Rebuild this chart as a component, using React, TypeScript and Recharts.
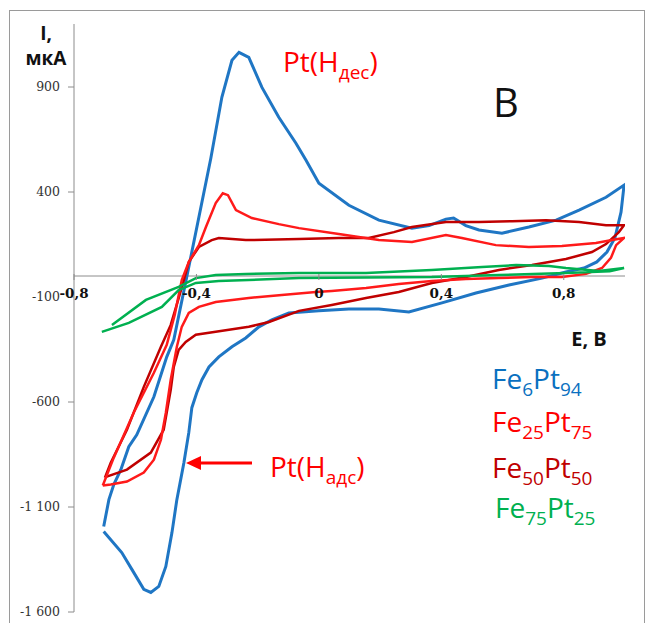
import React from 'react';
import { LineChart, Line, XAxis, YAxis, ReferenceLine } from 'recharts';

// Cyclic voltammograms of Fe–Pt alloys: potential E (V) vs current I (µA)
type Pair = [number, number];

const xTicks = [-0.8, -0.4, 0, 0.4, 0.8];
const yTicks = [-1600, -1100, -600, -100, 400, 900];

const fe6pt94: Pair[] = [
  [-0.703, -1193], [-0.686, -1065], [-0.670, -993], [-0.647, -922], [-0.621, -813],
  [-0.595, -756], [-0.539, -575], [-0.497, -385], [-0.474, -304], [-0.431, 0],
  [-0.353, 561], [-0.317, 851], [-0.284, 1027], [-0.261, 1065], [-0.229, 1041],
  [-0.186, 898], [-0.131, 756], [-0.075, 632], [-0.042, 551], [0, 442],
  [0.098, 337], [0.196, 266], [0.304, 228], [0.360, 240], [0.415, 271],
  [0.440, 276], [0.480, 240], [0.523, 219], [0.598, 204], [0.686, 233],
  [0.775, 266], [0.850, 314], [0.938, 375], [0.997, 433],
  [0.987, 304], [0.967, 181], [0.941, 114], [0.908, 67], [0.866, 38],
  [0.807, 19], [0.729, -10], [0.621, -43], [0.513, -81], [0.402, -128],
  [0.294, -171], [0.196, -157], [0.098, -157], [0, -166], [-0.098, -176],
  [-0.154, -209], [-0.196, -242], [-0.239, -295], [-0.284, -337], [-0.327, -385],
  [-0.359, -433], [-0.382, -494], [-0.399, -556], [-0.415, -627], [-0.425, -746],
  [-0.441, -889], [-0.464, -1065], [-0.480, -1222], [-0.500, -1383], [-0.523, -1478],
  [-0.549, -1507], [-0.572, -1492], [-0.611, -1397], [-0.644, -1317], [-0.703, -1217],
];

const fe25pt75: Pair[] = [
  [-0.706, -998], [-0.670, -865], [-0.605, -651], [-0.539, -461], [-0.497, -328],
  [-0.471, -185], [-0.448, -19], [-0.425, 67], [-0.392, 147], [-0.369, 233],
  [-0.337, 347], [-0.314, 394], [-0.297, 385], [-0.271, 314], [-0.219, 276],
  [-0.131, 247], [-0.065, 228], [0.065, 200], [0.196, 171], [0.304, 162],
  [0.415, 195], [0.467, 181], [0.578, 147], [0.686, 138], [0.794, 143],
  [0.905, 157], [0.958, 171], [0.997, 181],
  [0.971, 147], [0.954, 86], [0.925, 38], [0.873, 10], [0.794, -5],
  [0.696, -5], [0.588, -10], [0.480, -14], [0.369, -24], [0.261, -38],
  [0.154, -57], [0.042, -71], [-0.010, -76], [-0.121, -90], [-0.229, -105],
  [-0.337, -124], [-0.392, -147], [-0.425, -176], [-0.448, -242], [-0.464, -337],
  [-0.484, -494], [-0.500, -651], [-0.516, -780], [-0.539, -875], [-0.572, -936],
  [-0.627, -979], [-0.680, -993], [-0.706, -998],
];

const fe50pt50: Pair[] = [
  [-0.699, -960], [-0.680, -889], [-0.627, -732], [-0.572, -528], [-0.516, -337],
  [-0.484, -233], [-0.458, -105], [-0.441, -19], [-0.425, 67], [-0.392, 138],
  [-0.350, 171], [-0.327, 181], [-0.239, 171], [-0.065, 176], [0.065, 181],
  [0.163, 181], [0.245, 209], [0.304, 233], [0.415, 257], [0.523, 257],
  [0.631, 261], [0.742, 266], [0.850, 257], [0.938, 242], [0.997, 242],
  [0.980, 209], [0.938, 152], [0.892, 114], [0.807, 81], [0.752, 67],
  [0.696, 52], [0.588, 29], [0.480, -5], [0.369, -33], [0.261, -76],
  [0.154, -105], [0.042, -138], [-0.065, -166], [-0.163, -219], [-0.229, -242],
  [-0.337, -266], [-0.402, -280], [-0.435, -314], [-0.458, -352], [-0.474, -433],
  [-0.484, -542], [-0.507, -732], [-0.549, -841], [-0.627, -922], [-0.693, -955],
  [-0.699, -960],
];

const fe75pt25: Pair[] = [
  [-0.676, -233], [-0.565, -114], [-0.458, -52], [-0.402, -10], [-0.337, 5],
  [-0.239, 10], [-0.065, 14], [0.154, 14], [0.369, 29], [0.533, 43],
  [0.644, 52], [0.752, 48], [0.807, 38], [0.915, 24], [0.997, 38],
  [0.950, 22], [0.807, 14], [0.588, 5], [0.369, -5], [-0.065, -10],
  [-0.327, -24], [-0.402, -33], [-0.458, -67], [-0.513, -147], [-0.621, -223],
  [-0.709, -266],
];

const series = [
  { name: 'Fe6Pt94', points: fe6pt94, color: '#1f76c4', width: 3 },
  { name: 'Fe50Pt50', points: fe50pt50, color: '#c00000', width: 2.5 },
  { name: 'Fe25Pt75', points: fe25pt75, color: '#ff1a1a', width: 2.5 },
  { name: 'Fe75Pt25', points: fe75pt25, color: '#00b050', width: 2.5 },
];

const W = 646;
const H = 623;
const MARGIN = { top: 24, right: 21, bottom: 10, left: 0 };
const Y_AXIS_W = 74;
const X_AXIS_H = 1;
const Y_DOMAIN: [number, number] = [-1600, 1200];
const X_DOMAIN: [number, number] = [-0.8, 1.0];
const PLOT_H = H - MARGIN.top - MARGIN.bottom - X_AXIS_H;
const PLOT_BOTTOM = MARGIN.top + PLOT_H;
// the horizontal axis crosses at I = 0
const ZERO_Y = MARGIN.top + (PLOT_H * (Y_DOMAIN[1] - 0)) / (Y_DOMAIN[1] - Y_DOMAIN[0]);

const AXIS_GREY = '#8c8c8c';
const SANS = "'Open Sans', 'Noto Sans', sans-serif";

const fmtX = (v: number) => String(v).replace('.', ',');
const fmtY = (v: number) => {
  const s = String(Math.abs(v));
  const g = s.length > 3 ? s.slice(0, -3) + '\u00a0' + s.slice(-3) : s;
  return (v < 0 ? '-' : '') + g;
};

function XTick(props: any) {
  const { x, y, payload } = props;
  const y0 = y - (PLOT_BOTTOM - ZERO_Y);
  return (
    <g>
      <line x1={x} x2={x} y1={y0 - 2} y2={y0 + 4} stroke={AXIS_GREY} />
      <text
        x={x}
        y={y0 + 22}
        textAnchor="middle"
        fontFamily="'DejaVu Serif', serif"
        fontWeight="bold"
        fontSize={13.5}
        fill="#111"
      >
        {fmtX(payload.value)}
      </text>
    </g>
  );
}

function Formula({ x, y, a, b, c, d, color }: any) {
  return (
    <text x={x} y={y} fontFamily={SANS} fontSize={28} fill={color}>
      <tspan>{a}</tspan>
      <tspan fontSize={19} dy={7}>{b}</tspan>
      <tspan dy={-7}>{c}</tspan>
      <tspan fontSize={19} dy={7}>{d}</tspan>
    </text>
  );
}

export default function App() {
  return (
    <div style={{ position: 'absolute', left: 0, top: 0, width: W, height: H, background: '#fff' }}>
      <LineChart width={W} height={H} margin={MARGIN}>
        <XAxis
          type="number"
          dataKey="E"
          domain={X_DOMAIN}
          ticks={xTicks}
          interval={0}
          height={X_AXIS_H}
          axisLine={false}
          tickLine={false}
          tickSize={0}
          tickMargin={0}
          tick={<XTick />}
          allowDataOverflow
        />
        <YAxis
          type="number"
          dataKey="I"
          domain={Y_DOMAIN}
          ticks={yTicks}
          interval={0}
          width={Y_AXIS_W}
          axisLine={{ stroke: AXIS_GREY }}
          tickLine={{ stroke: AXIS_GREY }}
          tickSize={6}
          tickMargin={8}
          tickFormatter={fmtY}
          tick={{ fontFamily: "'DejaVu Serif', serif", fontSize: 12.5, fill: '#333' }}
          allowDataOverflow
        />
        <ReferenceLine y={0} stroke={AXIS_GREY} strokeWidth={1} ifOverflow="visible" />
        {series.map((s) => (
          <Line
            key={s.name}
            name={s.name}
            data={s.points.map(([E, I]) => ({ E, I }))}
            dataKey="I"
            type="linear"
            stroke={s.color}
            strokeWidth={s.width}
            dot={false}
            activeDot={false}
            isAnimationActive={false}
          />
        ))}
      </LineChart>
      <svg
        width={W}
        height={H}
        style={{ position: 'absolute', left: 0, top: 0, pointerEvents: 'none' }}
      >
        <rect x={9.5} y={10.5} width={635} height={700} fill="none" stroke="#9a9a9a" />
        <text x={46} y={40} textAnchor="middle" fontFamily={SANS} fontWeight="bold" fontSize={19} fill="#111">I,</text>
        <text x={46} y={65} textAnchor="middle" fontFamily={SANS} fontWeight="bold" fontSize={19} fill="#111">мкА</text>
        <text x={589} y={346} textAnchor="middle" fontFamily={SANS} fontWeight="bold" fontSize={20} fill="#111">E, B</text>
        <text x={493} y={117} fontFamily={SANS} fontSize={40} fill="#111">B</text>
        <text x={283} y={72} fontFamily={SANS} fontSize={28} fill="#ff0000">
          <tspan>Pt(H</tspan>
          <tspan fontSize={19} dy={7}>дес</tspan>
          <tspan dy={-7}>)</tspan>
        </text>
        <text x={270} y={477} fontFamily={SANS} fontSize={28} fill="#ff0000">
          <tspan>Pt(H</tspan>
          <tspan fontSize={19} dy={7}>адс</tspan>
          <tspan dy={-7}>)</tspan>
        </text>
        <line x1={252} y1={463} x2={198} y2={463} stroke="#ff0000" strokeWidth={3} />
        <polygon points="186,463 201,456 201,470" fill="#ff0000" />
        <Formula x={492} y={389} a="Fe" b="6" c="Pt" d="94" color="#0a70c0" />
        <Formula x={492} y={432} a="Fe" b="25" c="Pt" d="75" color="#ff0000" />
        <Formula x={492} y={478} a="Fe" b="50" c="Pt" d="50" color="#c00000" />
        <Formula x={495} y={518} a="Fe" b="75" c="Pt" d="25" color="#00b050" />
      </svg>
    </div>
  );
}
